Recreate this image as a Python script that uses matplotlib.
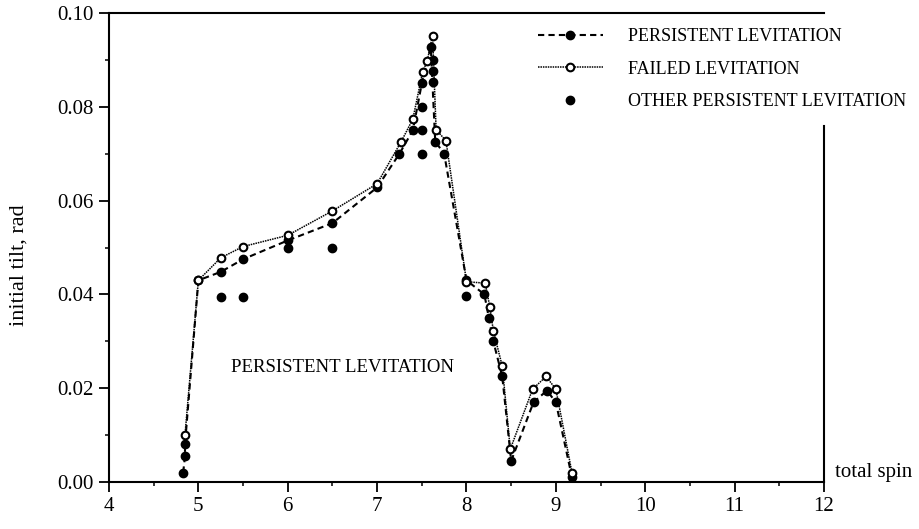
import matplotlib
matplotlib.use("Agg")
import matplotlib.pyplot as plt
from matplotlib.ticker import MultipleLocator, FormatStrFormatter

plt.rcParams['font.family'] = ['Liberation Serif', 'DejaVu Serif']

# Persistent levitation (filled markers, dashed line)
persist_x = [4.83, 4.85, 4.85, 5.0, 5.25, 5.5, 6.0, 6.5, 7.0, 7.25, 7.4, 7.5, 7.6, 7.65, 7.75,
             8.0, 8.2, 8.25, 8.3, 8.4, 8.5, 8.75, 8.9, 9.0, 9.18]
persist_y = [0.002, 0.0055, 0.008, 0.043, 0.0448, 0.0475, 0.0515, 0.0552, 0.0628, 0.070, 0.075,
             0.085, 0.0928, 0.0726, 0.070, 0.043, 0.040, 0.035, 0.030, 0.0225, 0.0045, 0.017,
             0.0195, 0.017, 0.001]

# Failed levitation (open markers, dotted line)
failed_x = [4.85, 5.0, 5.25, 5.5, 6.0, 6.5, 7.0, 7.27, 7.4, 7.51, 7.56, 7.62, 7.66, 7.77,
            8.0, 8.21, 8.26, 8.3, 8.4, 8.49, 8.74, 8.89, 9.0, 9.18]
failed_y = [0.010, 0.043, 0.0478, 0.0502, 0.0526, 0.0578, 0.0636, 0.0726, 0.0774, 0.0875,
            0.0897, 0.0952, 0.0751, 0.0728, 0.0427, 0.0424, 0.0374, 0.0323, 0.0247, 0.0070,
            0.0198, 0.0225, 0.0198, 0.002]

# Other persistent levitation (isolated filled markers)
other_x = [5.25, 5.5, 6.0, 6.5, 7.5, 7.5, 7.5, 7.62, 7.62, 7.62, 8.0]
other_y = [0.0395, 0.0395, 0.0498, 0.0498, 0.080, 0.075, 0.070, 0.090, 0.0876, 0.0853, 0.0397]

labels = ["PERSISTENT LEVITATION", "FAILED LEVITATION", "OTHER PERSISTENT LEVITATION"]

fig = plt.figure(figsize=(9.2, 5.29), dpi=100)
ax = fig.add_axes([109/920, 1-482/529, (824-109)/920, (482-13)/529])

l1, = ax.plot(persist_x, persist_y, color='black', linestyle=(0, (3, 2)), linewidth=1.5,
              marker='o', markersize=6, markerfacecolor='black', markeredgecolor='black', zorder=3)
l3, = ax.plot(other_x, other_y, linestyle='none', marker='o', markersize=6,
              markerfacecolor='black', markeredgecolor='black', zorder=3)
l2, = ax.plot(failed_x, failed_y, color='black', linestyle=(0, (1, 0.6)), linewidth=1.1,
              marker='o', markersize=5.5, markerfacecolor='white', markeredgecolor='black',
              markeredgewidth=1.5, zorder=4)

ax.set_xlim(4, 12)
ax.set_ylim(0, 0.10)
ax.xaxis.set_major_locator(MultipleLocator(1))
ax.xaxis.set_minor_locator(MultipleLocator(0.5))
ax.yaxis.set_major_locator(MultipleLocator(0.02))
ax.yaxis.set_minor_locator(MultipleLocator(0.01))
ax.yaxis.set_major_formatter(FormatStrFormatter('%.2f'))
ax.tick_params(which='major', direction='out', length=7, width=1.3, labelsize=15, pad=4)
ax.tick_params(which='minor', direction='out', length=3, width=1.1)
ax.tick_params(top=False, right=False)

for s in ['left', 'bottom', 'top', 'right']:
    ax.spines[s].set_linewidth(1.5)
ax.spines['right'].set_bounds(0, 0.076)

ax.set_ylabel("initial tilt, rad", fontsize=16)
ax.yaxis.set_label_coords(-0.112, 0.463)

ax.text(1.015, 0.02, "total spin", transform=ax.transAxes, fontsize=15,
        ha='left', va='center', clip_on=False)
ax.text(5.37, 0.0245, "PERSISTENT LEVITATION", fontsize=13.5, ha='left', va='center')

leg = fig.legend([l1, l2, l3], labels, loc='upper left',
                 bbox_to_anchor=(538/920, 1-28/529), bbox_transform=fig.transFigure,
                 frameon=False, fontsize=13, handlelength=3.6, handletextpad=1.4,
                 labelspacing=0.86, borderpad=0, borderaxespad=0, numpoints=1)

fig.savefig("out.png", dpi=100)
